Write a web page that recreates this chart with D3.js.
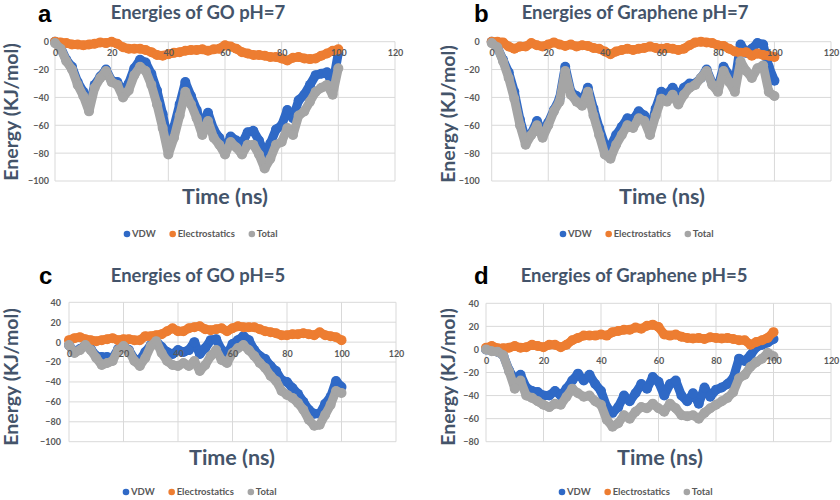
<!DOCTYPE html>
<html><head><meta charset="utf-8">
<script src="https://cdn.jsdelivr.net/npm/d3@7"></script>
<style>body{margin:0;background:#fff}svg{display:block}</style>
</head><body>
<svg id="chart" width="840" height="500"></svg>
<script>
// ---- data (time in ns, energies in KJ/mol) ----
const time = [0,2,4,6,8,10,12,14,16,18,20,22,24,26,28,30,32,34,36,38,40,42,44,46,48,50,52,54,56,58,60,62,64,66,68,70,72,74,76,78,80,82,84,86,88,90,92,94,96,98,100];
const seriesNames = ["VDW","Electrostatics","Total"];
const xTicks = [0,20,40,60,80,100,120];

// a: GO pH=7
const aVdw   = [0,-4,-13,-18,-29,-36,-47,-31,-25,-20,-28,-29,-36,-30,-19,-13,-15,-23,-35,-52,-72,-61,-45,-29,-39,-49,-61,-51,-63,-69,-78,-68,-71,-73,-65,-64,-71,-80,-73,-63,-60,-49,-55,-42,-38,-31,-24,-23,-22,-31,-8];
const aElec  = [0,-0.5,-1,-2,-2,-2.5,-2,-1.5,-0.5,-1,0,-1.5,-4,-5,-5,-5,-6,-7.5,-9.5,-10,-9,-8,-7.5,-6.5,-6,-6,-5.5,-6.5,-5.5,-5,-2.5,-3.5,-5,-7.5,-8.5,-9.5,-9.5,-10,-11,-11,-12,-13.5,-11.5,-11,-12,-12.5,-12,-10,-8.5,-6.5,-5.5];
const aTotal = [-1,-5,-14,-20,-31,-39,-50,-33,-26,-21,-29,-31,-40,-35,-24,-18,-21,-31,-45,-62,-81,-69,-53,-36,-45,-55,-67,-57,-69,-74,-81,-72,-76,-81,-74,-74,-81,-91,-84,-74,-72,-62,-67,-53,-50,-43,-36,-33,-31,-38,-19];
// b: Graphene pH=7
const bVdw   = [0,-4,-13,-22,-36,-56,-70,-66,-57,-65,-58,-49,-41,-18,-36,-39,-43,-33,-48,-62,-74,-75,-67,-61,-55,-56,-50,-53,-63,-48,-36,-38,-33,-39,-33,-30,-30,-26,-20,-30,-33,-18,-24,-29,-2,-8,-5,-1,-2,-18,-28];
const bElec  = [0,0,-0.5,-3.5,-5,-3.5,-3.5,-1,-2.5,-3.5,-2,-0.5,-2,-3,-2,-3.5,-2.5,-3,-4.5,-5,-7,-9,-7,-6,-5,-6,-5,-4.5,-3.5,-4.5,-5,-4.5,-5,-6,-5,-2.5,-0.5,0,-0.5,-1,-2.5,-3,-5,-7,-8,-7.5,-10,-8.5,-9.5,-10,-11];
const bTotal = [-1,-4,-14,-26,-41,-60,-74,-67,-60,-69,-60,-50,-43,-21,-38,-43,-46,-36,-53,-67,-81,-84,-74,-67,-60,-62,-55,-57,-67,-53,-41,-43,-38,-45,-38,-33,-31,-26,-21,-31,-36,-21,-29,-36,-14,-21,-26,-19,-17,-36,-39];
// c: GO pH=5
const cVdw   = [-3,-10,-7,-3,-7,-14,-15,-15,-16,-7,-4,-8,-17,-18,-10,-3,1,-5,-10,-12,-8,-10,-8,0,-12,-6,2,3,-8,-12,-2,2,6,2,-8,-14,-17,-24,-29,-38,-40,-46,-52,-60,-68,-72,-72,-62,-55,-39,-45];
const cElec  = [2,4,5,3,2,1,2,3,4,2,3,3,2,2,6,6,7,8,11,14,11,11,14,15,16,13,12,13,14,11,14,16,15,15,15,13,11,10,9,7,7,8,8,9,8,7,10,7,6,5,2];
const cTotal = [-3,-11,-8,-3,-8,-16,-23,-21,-19,-8,-4,-9,-19,-24,-16,-4,1,-11,-19,-23,-24,-21,-24,-19,-29,-23,-14,-8,-18,-21,-11,-6,-3,-8,-14,-21,-26,-34,-39,-49,-53,-56,-61,-68,-78,-84,-83,-73,-63,-49,-51];
// d: Graphene pH=5
const dVdw   = [0,-1,-2,-5,-18,-26,-22,-33,-36,-37,-40,-40,-36,-40,-34,-27,-21,-27,-22,-30,-36,-50,-55,-50,-40,-45,-38,-30,-34,-24,-28,-40,-30,-27,-40,-45,-38,-47,-33,-41,-35,-33,-30,-25,-8,-10,-5,2,4,6,9];
const dElec  = [1.5,3,1,1,1.5,3,1.5,2,4,3,2,4,4,2,4,8,10,12,12,12,13,12,15,16,17,17,19,18,20.5,21.5,19.5,13,12,13,11,10,9.5,10,9,10.5,10,9.5,10,9,8,8,4,6.5,8,10,15];
const dTotal = [0,-1.5,-2,-5,-19,-34,-27,-40,-42,-45,-48,-50,-47,-48,-41,-34,-38,-41,-40,-45,-48,-61,-67,-64,-57,-60,-54,-50,-51,-47,-51,-54,-47,-51,-57,-58,-57,-60,-55,-51,-48,-45,-42,-37,-25,-22,-15,-11,-8,-3,-6];

const yTicksA = [0,-20,-40,-60,-80,-100];
const yTicksC = [40,20,0,-20,-40,-60,-80,-100];
const yTicksD = [40,20,0,-20,-40,-60,-80];

const colors = ["#2f69c6","#ed7d31","#a5a5a5"];

// ---- layout ----
const panels = [
  {letter:"a", title:"Energies of GO pH=7", series:[aVdw,aElec,aTotal], yDomain:[-100,0], yTicks:yTicksA,
   x0:55, x1:395, yTop:41.7, yBot:181, letterX:38, letterY:22, titleX:198, titleY:19,
   yTitleX:18, yTitleY:112, tTitleX:225, tTitleY:204, legY:234, legX:124, tickGap:6},
  {letter:"b", title:"Energies of Graphene pH=7", series:[bVdw,bElec,bTotal], yDomain:[-100,0], yTicks:yTicksA,
   x0:491.7, x1:831, yTop:41.7, yBot:181, letterX:474, letterY:22, titleX:635, titleY:19,
   yTitleX:455, yTitleY:114, tTitleX:662, tTitleY:204, legY:234, legX:560, tickGap:12},
  {letter:"c", title:"Energies of GO pH=5", series:[cVdw,cElec,cTotal], yDomain:[-100,40], yTicks:yTicksC,
   x0:69, x1:396, yTop:302.3, yBot:441.7, letterX:39, letterY:284, titleX:198, titleY:282,
   yTitleX:18, yTitleY:377, tTitleX:232, tTitleY:465, legY:492, legX:123, tickGap:8},
  {letter:"d", title:"Energies of Graphene pH=5", series:[dVdw,dElec,dTotal], yDomain:[-80,40], yTicks:yTicksD,
   x0:486, x1:831, yTop:303.3, yBot:441.7, letterX:474, letterY:284, titleX:634, titleY:282,
   yTitleX:455, yTitleY:377, tTitleX:660, tTitleY:465, legY:492, legX:559, tickGap:7}
];

const svg = d3.select("#chart");
const titleColor = "#44546a", tickColor = "#595959", gridColor = "#d9d9d9";
const fontFam = "Lato, 'Open Sans', sans-serif";

panels.forEach(p => {
  const g = svg.append("g");
  const x = d3.scaleLinear().domain([0,120]).range([p.x0,p.x1]);
  const y = d3.scaleLinear().domain(p.yDomain).range([p.yBot,p.yTop]);

  // gridlines
  g.append("g").selectAll("line.h").data(p.yTicks).join("line")
    .attr("x1",p.x0).attr("x2",p.x1).attr("y1",d=>y(d)).attr("y2",d=>y(d))
    .attr("stroke",gridColor).attr("stroke-width",1);
  g.append("g").selectAll("line.v").data(xTicks).join("line")
    .attr("x1",d=>x(d)).attr("x2",d=>x(d)).attr("y1",p.yTop).attr("y2",p.yBot)
    .attr("stroke",gridColor).attr("stroke-width",1);

  // series
  const line = d3.line().x((d,i)=>x(time[i])).y(d=>y(d)).curve(d3.curveLinear);
  p.series.forEach((vals,si) => {
    const sg = g.append("g");
    sg.append("path").datum(vals).attr("d",line).attr("fill","none")
      .attr("stroke",colors[si]).attr("stroke-width",9)
      .attr("stroke-linejoin","round").attr("stroke-linecap","round");
    sg.selectAll("circle").data(vals).join("circle")
      .attr("cx",(d,i)=>x(time[i])).attr("cy",d=>y(d)).attr("r",5)
      .attr("fill",colors[si]);
  });

  // y axis labels
  const yAxis = d3.axisLeft(y).tickValues(p.yTicks).tickSize(0).tickPadding(p.tickGap);
  const ya = g.append("g").attr("transform",`translate(${p.x0},0)`).call(yAxis);
  ya.select(".domain").remove();
  ya.selectAll("text").attr("fill",tickColor).attr("font-size",9).attr("font-weight","bold").attr("font-family",fontFam);

  // x axis labels at y=0
  const xAxis = d3.axisBottom(x).tickValues(xTicks).tickSize(0).tickPadding(8);
  const xa = g.append("g").attr("transform",`translate(0,${y(0)})`).call(xAxis);
  xa.select(".domain").remove();
  xa.selectAll("text").attr("fill",tickColor).attr("font-size",9).attr("font-weight","bold").attr("font-family",fontFam);

  // panel letter
  g.append("text").attr("x",p.letterX).attr("y",p.letterY).text(p.letter)
    .attr("font-family","'Liberation Sans', Arial, sans-serif").attr("font-weight","bold")
    .attr("font-size",24).attr("fill","#000");
  // title
  g.append("text").attr("x",p.titleX).attr("y",p.titleY).text(p.title)
    .attr("text-anchor","middle").attr("font-family",fontFam).attr("font-weight","bold")
    .attr("font-size",18.5).attr("fill",titleColor);
  // y title
  g.append("text").attr("transform",`translate(${p.yTitleX},${p.yTitleY}) rotate(-90)`)
    .text("Energy (KJ/mol)").attr("text-anchor","middle").attr("font-family",fontFam)
    .attr("font-weight","bold").attr("font-size",19.5).attr("fill",titleColor);
  // x title
  g.append("text").attr("x",p.tTitleX).attr("y",p.tTitleY).text("Time (ns)")
    .attr("text-anchor","middle").attr("font-family",fontFam).attr("font-weight","bold")
    .attr("font-size",21.5).attr("fill",titleColor);

  // legend
  const leg = g.append("g").attr("transform",`translate(${p.legX},${p.legY})`);
  let cx = 0;
  seriesNames.forEach((n,i) => {
    const it = leg.append("g").attr("transform",`translate(${cx},0)`);
    it.append("circle").attr("cx",3).attr("cy",0).attr("r",3.3).attr("fill",colors[i]);
    const t = it.append("text").attr("x",8).attr("y",3.3).text(n)
      .attr("font-family",fontFam).attr("font-weight","bold").attr("font-size",9.5).attr("fill",tickColor);
    cx += 8 + t.node().getComputedTextLength() + 14;
  });
});
</script>
</body></html>
